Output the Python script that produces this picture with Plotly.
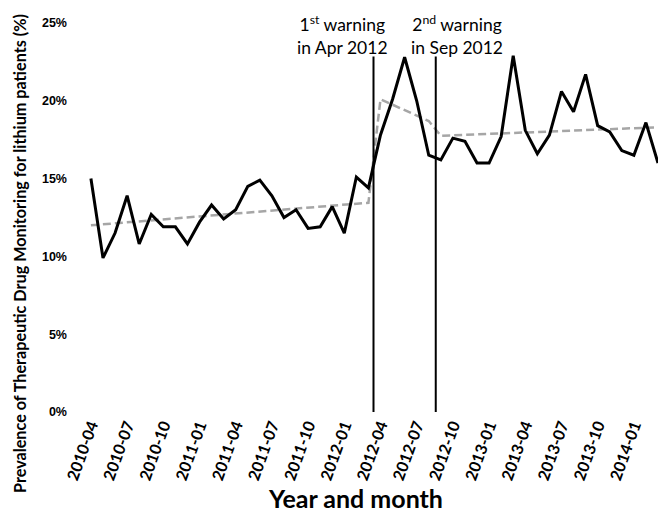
import plotly.graph_objects as go

# Monthly categories 2010-04 .. 2014-03
months = [f"{y}-{m:02d}" for y in range(2010, 2015) for m in range(1, 13)]
months = months[months.index("2010-04"):months.index("2014-03") + 1]

# Prevalence of TDM (%) per month
prevalence = [15.0, 9.9, 11.5, 13.9, 10.8, 12.7, 11.9, 11.9, 10.8,
              12.2, 13.3, 12.4, 13.0, 14.5, 14.9, 13.9, 12.5, 13.0, 11.8, 11.9, 13.2,
              11.5, 15.1, 14.4, 17.8, 20.1, 22.8, 20.0, 16.5, 16.2, 17.6, 17.4, 16.0,
              16.0, 17.7, 22.9, 18.1, 16.6, 17.8, 20.6, 19.3, 21.7, 18.4, 18.0, 16.8,
              16.5, 18.6, 16.0]

# Segmented trend (breakpoints)
trend_months = ["2010-04", "2012-03", "2012-04", "2012-08", "2012-09", "2014-03"]
trend_values = [12.0, 13.45, 20.1, 18.7, 17.75, 18.3]

tick_labels = ["2010-04", "2010-07", "2010-10", "2011-01", "2011-04", "2011-07",
               "2011-10", "2012-01", "2012-04", "2012-07", "2012-10", "2013-01",
               "2013-04", "2013-07", "2013-10", "2014-01"]

y_ticks = [0, 5, 10, 15, 20, 25]
y_tick_text = [f"{v}%" for v in y_ticks]

warning_labels = ["1<sup>st</sup> warning<br>in Apr 2012",
                  "2<sup>nd</sup> warning<br>in Sep 2012"]

L, R, T, B = 68, 0, 23, 100
W, H = 658, 512

fig = go.Figure()
fig.add_trace(go.Scatter(
    x=trend_months, y=trend_values, mode="lines",
    line=dict(color="#a6a6a6", width=2.5, dash="8px,4px"),
    showlegend=False, hoverinfo="skip"))
fig.add_trace(go.Scatter(
    x=months, y=prevalence, mode="lines",
    line=dict(color="black", width=3),
    showlegend=False))

# vertical warning lines (between months, as in the reference)
for xpos in [23.42, 28.58]:
    fig.add_shape(type="line", xref="x", yref="y", x0=xpos, x1=xpos, y0=0, y1=22.85,
                  line=dict(color="black", width=2))

for xpix, txt in zip([342, 457], warning_labels):
    fig.add_annotation(x=0, y=1, xref="paper", yref="paper", xshift=xpix - L,
                       yshift=-12, xanchor="center", yanchor="middle",
                       text=txt, showarrow=False, align="center",
                       font=dict(family="Lato", size=17.5, color="black"))

# axis titles
fig.add_annotation(x=0, y=0, xref="paper", yref="paper", xshift=355 - L, yshift=-86,
                   xanchor="center", yanchor="middle", showarrow=False,
                   text="<b>Year and month</b>",
                   font=dict(family="Lato", size=25, color="black"))
fig.add_annotation(x=0, y=0, xref="paper", yref="paper", xshift=19 - L,
                   yshift=(411 - 253),
                   xanchor="center", yanchor="middle", showarrow=False, textangle=-90,
                   text="<b>Prevalence of Therapeutic Drug Monitoring for lithium patients (%)</b>",
                   font=dict(family="Lato", size=16.2, color="black"))

fig.update_layout(
    width=W, height=H,
    margin=dict(l=L, r=R, t=T, b=B, autoexpand=False),
    paper_bgcolor="white", plot_bgcolor="white",
    xaxis=dict(type="category", categoryorder="array", categoryarray=months,
               range=[-1.9, 47.0], showgrid=False, zeroline=False, showline=False,
               automargin=False,
               ticks="", tickmode="array", tickvals=tick_labels, ticktext=tick_labels,
               tickangle=-70,
               tickfont=dict(family="Lato", size=16, color="black", weight="bold")),
    yaxis=dict(range=[0, 25], tickmode="array", tickvals=y_ticks, ticktext=y_tick_text,
               showgrid=False, zeroline=False, showline=False, ticks="",
               automargin=False,
               tickfont=dict(family="Liberation Sans", size=12.5, color="black",
                             weight="bold")),
)

fig.write_html("out.html",
               config={"displayModeBar": False},
               post_script="document.body.style.margin='0';"
                           "document.body.style.padding='0';"
                           "document.body.style.overflow='hidden';")
